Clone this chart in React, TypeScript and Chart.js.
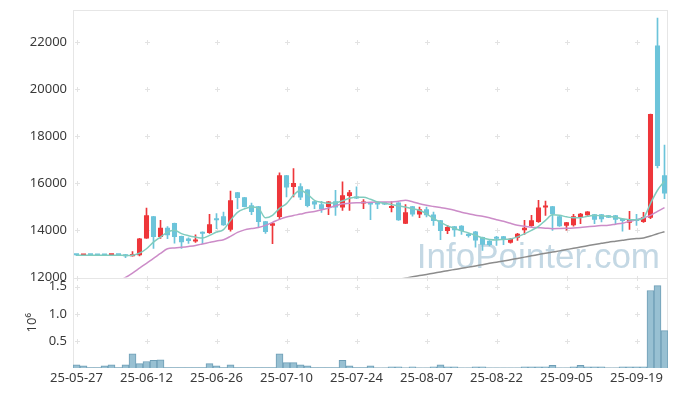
import React, { useEffect, useRef } from 'react';
import { Chart, registerables } from 'chart.js';
Chart.register(...registerables);

const dates = [
  '25-05-27','25-05-28','25-05-29','25-05-30','25-06-02','25-06-04','25-06-05','25-06-09','25-06-10','25-06-11',
  '25-06-12','25-06-13','25-06-16','25-06-17','25-06-18','25-06-19','25-06-20','25-06-23','25-06-24','25-06-25',
  '25-06-26','25-06-27','25-06-30','25-07-01','25-07-02','25-07-03','25-07-04','25-07-07','25-07-08','25-07-09',
  '25-07-10','25-07-11','25-07-14','25-07-15','25-07-16','25-07-17','25-07-18','25-07-21','25-07-22','25-07-23',
  '25-07-24','25-07-25','25-07-28','25-07-29','25-07-30','25-07-31','25-08-01','25-08-04','25-08-05','25-08-06',
  '25-08-07','25-08-08','25-08-11','25-08-12','25-08-13','25-08-14','25-08-18','25-08-19','25-08-20','25-08-21',
  '25-08-22','25-08-25','25-08-26','25-08-27','25-08-28','25-08-29','25-09-01','25-09-02','25-09-03','25-09-04',
  '25-09-05','25-09-08','25-09-09','25-09-10','25-09-11','25-09-12','25-09-15','25-09-16','25-09-17','25-09-18',
  '25-09-19','25-09-22','25-09-23','25-09-24','25-09-25',
];

const opens = [
  12950,12930,12950,12940,12940,12940,12950,12980,12900,12940,
  13660,14600,13715,14115,14310,13760,13660,13530,13930,13885,
  14500,14595,14030,15617,15404,15064,15021,14383,14200,14566,
  16340,15842,15872,15732,15234,15106,14991,15234,14966,15459,
  15391,15136,15179,15136,15191,14949,15179,14285,15021,14668,
  14894,14668,14426,13970,14170,14200,13860,13957,13715,13560,
  13732,13745,13477,13690,14000,14183,14353,14966,15021,14596,
  14200,14213,14566,14638,14681,14681,14638,14638,14455,14327,
  14455,14353,14540,21843,16340,
];
const highs = [
  12950,12960,12950,12950,12950,12960,12960,12980,13100,13660,
  14950,14600,14425,14160,14310,13760,13680,13815,13940,14680,
  14710,14780,15670,15617,15404,15162,15021,14383,14320,16438,
  16340,16625,15987,15732,15234,15234,15221,15702,16055,15702,
  15842,15306,15179,15136,15191,15221,15179,15094,15021,14991,
  14991,14779,14426,14213,14170,14200,13860,13957,13715,13570,
  13745,13745,13660,13870,14426,14638,15277,15247,15021,14596,
  14340,14681,14720,14800,14681,14681,14638,14638,14455,14808,
  14681,14766,18936,23008,17617,
];
const lows = [
  12930,12930,12930,12930,12930,12930,12940,12840,12900,12920,
  13660,13230,13660,13650,13460,13235,13450,13490,13435,13870,
  14070,14213,13970,14923,14991,14668,14140,13870,13434,14455,
  15417,15417,15306,15000,14923,14766,14668,14638,14851,14851,
  15340,14923,14455,14923,15094,14779,14426,14285,14600,14540,
  14566,14213,13604,13860,13745,13830,13715,13290,13150,13340,
  13362,13390,13460,13574,13830,14170,14340,14638,14000,14170,
  14013,14183,14285,14630,14285,14353,14540,14285,13970,14043,
  14213,14340,14500,16650,15350,
];
const closes = [
  12940,12950,12940,12935,12935,12950,12945,12900,13000,13650,
  14640,13715,14115,13790,13715,13500,13545,13615,13860,14255,
  14425,14213,15277,15375,14991,14780,14353,13928,14298,16340,
  15817,16013,15391,15034,15094,14894,15221,14966,15489,15617,
  15349,15204,15094,15094,15094,15034,14426,14766,14668,14894,
  14638,14396,13970,14140,14000,13970,13757,13574,13390,13380,
  13647,13617,13647,13860,14115,14426,14966,15034,14681,14170,
  14340,14596,14710,14796,14455,14468,14540,14455,14396,14455,
  14400,14566,18936,16736,15561,
];
const volumes = [
  60000,40000,10000,10000,40000,60000,10000,60000,260000,80000,
  120000,140000,150000,10000,10000,10000,10000,10000,10000,80000,
  40000,10000,60000,10000,10000,10000,10000,10000,10000,260000,
  100000,100000,60000,40000,10000,10000,10000,10000,140000,40000,
  10000,10000,40000,5000,5000,20000,20000,5000,20000,5000,
  5000,20000,60000,20000,20000,5000,5000,20000,20000,5000,
  5000,5000,5000,5000,20000,20000,20000,20000,50000,5000,
  5000,20000,50000,20000,20000,20000,5000,5000,20000,20000,
  20000,20000,1430000,1520000,690000,
];
const ma5 = [
  12945,12945,12943,12942,12942,12943,12944,12935,12945,13034,
  13220,13502,13715,13928,14000,13860,13775,13715,13672,13787,
  13928,14030,14425,14765,14915,14991,14936,14530,14638,14936,
  15136,15489,15702,15532,15276,15191,15150,15170,15255,15361,
  15404,15404,15319,15204,15149,15093,15042,14991,14915,14851,
  14702,14510,14340,14191,14085,13979,13894,13787,13680,13617,
  13596,13617,13638,13723,13851,14000,14170,14425,14659,14638,
  14574,14532,14540,14595,14638,14617,14595,14553,14489,14455,
  14447,14532,15140,15702,16085,
];
const ma20 = [
  null,null,null,null,null,null,11850,12000,12190,12396,
  12604,12808,13021,13220,13255,13285,13320,13362,13425,13490,
  13553,13604,13745,13915,14021,14077,14119,14213,14340,14468,
  14566,14630,14690,14757,14800,14872,14949,15042,15127,15149,
  15170,15178,15191,15200,15204,15204,15234,15276,15212,15127,
  15063,15012,14966,14915,14851,14766,14702,14638,14595,14532,
  14447,14383,14298,14221,14170,14136,14115,14094,14072,14077,
  14085,14098,14119,14149,14179,14204,14221,14264,14306,14383,
  14447,14532,14638,14808,14966,
];
const ma60 = [
  null,null,null,null,null,null,null,null,null,null,
  null,null,null,null,null,null,null,null,null,null,
  null,null,null,null,null,null,null,null,null,null,
  null,null,null,null,null,null,null,null,null,null,
  null,null,null,null,null,11870,11920,11975,12030,12080,
  12130,12185,12235,12290,12340,12390,12440,12490,12545,12600,
  12650,12700,12755,12810,12865,12920,12975,13030,13080,13130,
  13185,13240,13290,13345,13400,13450,13500,13540,13580,13620,
  13650,13680,13760,13860,13940,
];
const priceTicks = [12000, 14000, 16000, 18000, 20000, 22000];
const volumeTicks = [500000, 1000000, 1500000];

const RED = 'rgb(238,54,58)';
const BLUE = 'rgb(108,196,218)';
const TEAL = 'rgba(128,204,190,1)';
const PINK = 'rgba(204,140,200,1)';
const GRAY = 'rgba(140,140,140,1)';
const TICK_COLOR = '#3a3a3a';
const TICK_FONT = { family: "'Noto Sans', sans-serif", size: 13 };

export default function App() {
  const ref = useRef<HTMLCanvasElement>(null);
  useEffect(() => {
    const canvas = ref.current;
    if (!canvas) return;
    const colors = closes.map((c, i) => (c >= opens[i] ? RED : BLUE));

    const framePlugin = {
      id: 'framePlugin',
      beforeDatasetsDraw(chart: any) {
        const { ctx, chartArea: a, scales } = chart;
        const ys = scales.y;
        const yv = scales.yv;
        const xs = scales.x;
        ctx.save();
        ctx.font = "35px 'Liberation Sans', Arial, sans-serif";
        ctx.fillStyle = 'rgb(196,216,228)';
        ctx.textAlign = 'right';
        ctx.textBaseline = 'alphabetic';
        ctx.fillText('InfoPointer.com', a.right - 8, ys.bottom - 10);

        ctx.strokeStyle = '#e6e6e6';
        ctx.lineWidth = 1;
        ctx.strokeRect(Math.round(a.left) + 0.5, Math.round(a.top) + 0.5, Math.round(a.width) - 1, Math.round(a.height) - 1);
        const sep = Math.round(ys.bottom) + 0.5;
        ctx.beginPath();
        ctx.moveTo(a.left, sep);
        ctx.lineTo(a.right, sep);
        ctx.stroke();

        ctx.strokeStyle = '#e3e3e3';
        const xsPix: number[] = [];
        dates.forEach((_, i) => { if (i % 10 === 0) xsPix.push(xs.getPixelForValue(i)); });
        const ysPix: number[] = [];
        priceTicks.forEach(v => ysPix.push(ys.getPixelForValue(v)));
        volumeTicks.forEach(v => ysPix.push(yv.getPixelForValue(v)));
        ctx.beginPath();
        for (const px of xsPix) {
          for (const py of ysPix) {
            const x = Math.round(px) + 0.5;
            const y = Math.round(py) + 0.5;
            ctx.moveTo(x - 2.5, y); ctx.lineTo(x + 2.5, y);
            ctx.moveTo(x, y - 2.5); ctx.lineTo(x, y + 2.5);
          }
        }
        ctx.stroke();
        ctx.restore();
      },
    };

    const noPad = (s: any, w: number) => { s.width = w; s.paddingTop = 0; s.paddingBottom = 0; };

    const chart = new Chart(canvas, {
      type: 'bar',
      data: {
        labels: dates,
        datasets: [
          { type: 'line', label: 'MA5', data: ma5, yAxisID: 'y', borderColor: TEAL, borderWidth: 1.5, pointRadius: 0, cubicInterpolationMode: 'monotone' } as any,
          { type: 'line', label: 'MA20', data: ma20, yAxisID: 'y', borderColor: PINK, borderWidth: 1.5, pointRadius: 0, cubicInterpolationMode: 'monotone' } as any,
          { type: 'line', label: 'MA60', data: ma60, yAxisID: 'y', borderColor: GRAY, borderWidth: 1.5, pointRadius: 0, cubicInterpolationMode: 'monotone' } as any,
          { type: 'bar', label: 'body', data: opens.map((o, i) => [o, closes[i]]), yAxisID: 'y', backgroundColor: colors, grouped: false, barPercentage: 0.72, categoryPercentage: 1, minBarLength: 2 } as any,
          { type: 'bar', label: 'wick', data: lows.map((l, i) => [l, highs[i]]), yAxisID: 'y', backgroundColor: colors, grouped: false, barThickness: 1 } as any,
          { type: 'bar', label: 'volume', data: volumes, yAxisID: 'yv', backgroundColor: 'rgb(152,192,210)', borderColor: 'rgb(110,158,182)', borderWidth: 1, grouped: false, barPercentage: 1, categoryPercentage: 1 } as any,
        ],
      },
      options: {
        animation: false,
        responsive: true,
        maintainAspectRatio: false,
        events: [],
        layout: { padding: { top: 2, right: 1, left: 0, bottom: 0 } },
        plugins: { legend: { display: false }, tooltip: { enabled: false } },
        scales: {
          x: {
            type: 'category',
            offset: true,
            grid: { display: false, drawTicks: false },
            border: { display: false },
            ticks: {
              autoSkip: false, maxRotation: 0, minRotation: 0, padding: 2,
              color: TICK_COLOR, font: TICK_FONT,
              callback: (_v: any, i: number) => (i % 10 === 0 ? dates[i] : ''),
            },
            afterFit: (s: any) => { s.height = 20; s.paddingLeft = 0; s.paddingRight = 0; },
          },
          y: {
            type: 'linear', position: 'left', stack: 'main', stackWeight: 267.5, weight: 2,
            min: 12000, max: 23350,
            grid: { display: false, drawTicks: false },
            border: { display: false },
            ticks: { padding: 6, color: TICK_COLOR, font: TICK_FONT, callback: (v: any) => String(v) },
            afterBuildTicks: (s: any) => { s.ticks = priceTicks.map(v => ({ value: v })); },
            afterFit: (s: any) => noPad(s, 65),
          },
          yv: {
            type: 'linear', position: 'left', stack: 'main', stackWeight: 90.5, weight: 1,
            min: 0, max: 1670000,
            grid: { display: false, drawTicks: false },
            border: { display: false },
            ticks: { padding: 6, color: TICK_COLOR, font: TICK_FONT, callback: (v: any) => (Number(v) / 1e6).toFixed(1) },
            afterBuildTicks: (s: any) => { s.ticks = volumeTicks.map(v => ({ value: v })); },
            title: { display: true, text: '10⁶', color: TICK_COLOR, font: TICK_FONT, padding: { top: 16, bottom: 0 } },
            afterFit: (s: any) => noPad(s, 65),
          },
        },
      } as any,
      plugins: [framePlugin],
    });
    return () => chart.destroy();
  }, []);

  return (
    <div style={{ position: 'relative', width: 661, height: 380 }}>
      <canvas ref={ref} />
    </div>
  );
}
